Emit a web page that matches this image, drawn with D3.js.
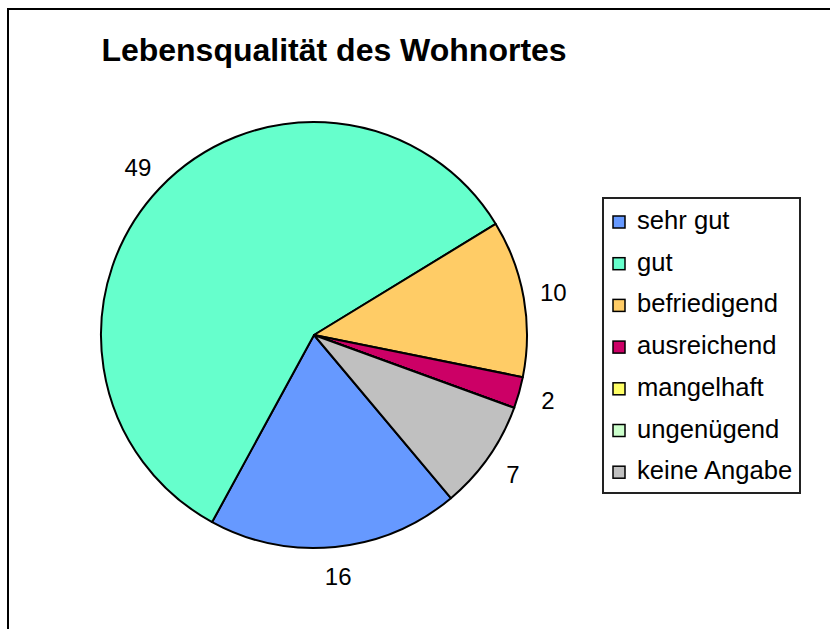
<!DOCTYPE html>
<html>
<head>
<meta charset="utf-8">
<script src="https://cdn.jsdelivr.net/npm/d3@7"></script>
<style>
  body { margin: 0; background: #fff; }
  text { font-family: "Liberation Sans", Arial, sans-serif; }
</style>
</head>
<body>
<div class="chart"></div>
<script>
// chart data
var categories = ["sehr gut", "gut", "befriedigend", "ausreichend", "mangelhaft", "ungenügend", "keine Angabe"];
var counts = [16, 49, 10, 2, 0, 0, 7];
var sliceColors = ["#6699FF", "#66FFCC", "#FFCC66", "#CC0066", "#FFFF66", "#CCFFCC", "#C0C0C0"];
var chartTitle = "Lebensqualität des Wohnortes";

// svg set up
var svgWidth = 830;
var svgHeight = 629;

var svg = d3.select(".chart")
  .append("svg")
  .attr("width", svgWidth)
  .attr("height", svgHeight);

// outer chart frame (only top and left edge visible)
svg.append("rect")
  .attr("x", 8)
  .attr("y", 9)
  .attr("width", svgWidth + 20)
  .attr("height", svgHeight + 20)
  .attr("fill", "#fff")
  .attr("stroke", "#000")
  .attr("stroke-width", 2);

// title
svg.append("text")
  .attr("x", 334)
  .attr("y", 61)
  .attr("text-anchor", "middle")
  .attr("font-size", "32px")
  .attr("font-weight", "bold")
  .text(chartTitle);

// pie
var cx = 314, cy = 335, radius = 213;
var startDeg = 140;

var pie = d3.pie()
  .sort(null)
  .value(d => d.value)
  .startAngle(startDeg * Math.PI / 180)
  .endAngle(startDeg * Math.PI / 180 + 2 * Math.PI);

var tableData = categories.map((c, i) => ({ name: c, value: counts[i], color: sliceColors[i] }));
var arcs = pie(tableData);

var arc = d3.arc().innerRadius(0).outerRadius(radius);
var labelArc = d3.arc().innerRadius(radius + 30).outerRadius(radius + 30);

var pieGroup = svg.append("g")
  .attr("transform", `translate(${cx}, ${cy})`);

pieGroup.selectAll("path")
  .data(arcs)
  .enter()
  .append("path")
  .attr("d", arc)
  .attr("fill", d => d.data.color)
  .attr("stroke", "#000")
  .attr("stroke-width", 2)
  .attr("stroke-linejoin", "round");

// value labels, zero values are hidden
pieGroup.selectAll("text")
  .data(arcs.filter(d => d.data.value > 0))
  .enter()
  .append("text")
  .attr("x", d => labelArc.centroid(d)[0])
  .attr("y", d => labelArc.centroid(d)[1])
  .attr("dy", "0.35em")
  .attr("text-anchor", "middle")
  .attr("font-size", "24px")
  .text(d => d.data.value);

// legend
var legend = svg.append("g")
  .attr("transform", "translate(603, 198)");

legend.append("rect")
  .attr("width", 197)
  .attr("height", 295)
  .attr("fill", "#fff")
  .attr("stroke", "#222")
  .attr("stroke-width", 2);

var rowStep = 41.7;
var items = legend.selectAll("g.item")
  .data(tableData)
  .enter()
  .append("g")
  .attr("class", "item")
  .attr("transform", (d, i) => `translate(0, ${31 + i * rowStep})`);

items.append("rect")
  .attr("x", 10)
  .attr("y", -13)
  .attr("width", 12)
  .attr("height", 12)
  .attr("fill", d => d.color)
  .attr("stroke", "#000")
  .attr("stroke-width", 1.5);

items.append("text")
  .attr("x", 34)
  .attr("y", 0)
  .attr("font-size", "25.6px")
  .text(d => d.name);
</script>
</body>
</html>
